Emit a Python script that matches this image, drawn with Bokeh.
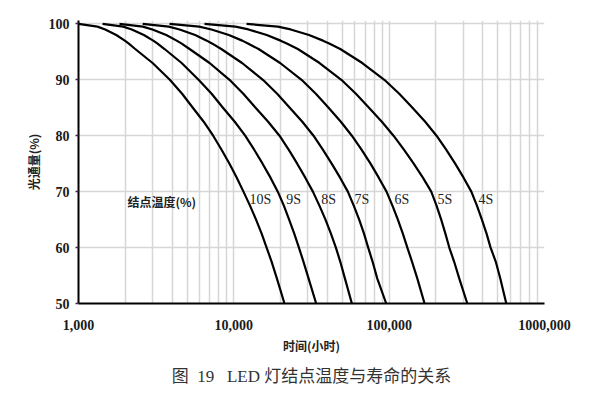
from bokeh.plotting import figure
from bokeh.models import FixedTicker, Range1d, Title, ColumnDataSource
from bokeh.core.properties import value
from bokeh.embed import file_html
from bokeh.resources import INLINE

# ---- data ----
flux_levels = [100, 99.5, 99, 98, 97, 96.5, 95.5, 93, 90, 87.5, 85, 82.5, 80, 77.5,
               75, 72.5, 70, 67.5, 65, 62.5, 60, 57.5, 54.5, 50]
hours_10s = [1000, 1324, 1486, 1750, 1986, 2099, 2317, 2999, 3873, 4645, 5445, 6397, 7362, 8337,
             9376, 10447, 11535, 12706, 13900, 15101, 16255, 17498, 18923, 21184]
hours_9s = [1429, 1941, 2203, 2636, 3027, 3214, 3581, 4613, 5929, 7194, 8511, 10139, 11830, 13521,
            15311, 17219, 19187, 20989, 22699, 24491, 26242, 28054, 30269, 33884]
hours_8s = [1837, 2594, 2992, 3673, 4285, 4592, 5188, 6982, 9376, 11508, 13804, 16634, 19679, 22542,
            25586, 28840, 32285, 35563, 38905, 42170, 45394, 48417, 51880, 57544]
hours_7s = [2588, 3811, 4477, 5636, 6699, 7228, 8299, 11298, 15382, 19011, 22909, 27606, 32584, 37411,
            42658, 48306, 54200, 59156, 64121, 68865, 73282, 78163, 83753, 95719]
hours_6s = [3855, 5984, 7178, 9290, 11324, 12331, 14421, 19861, 27290, 33729, 40738, 48865, 57544, 66374,
            75858, 85704, 96161, 104954, 113763, 122462, 130918, 140281, 151705, 169044]
hours_5s = [6471, 10257, 12417, 16293, 19999, 21928, 25823, 35645, 49204, 61094, 74131, 89743, 106660, 124451,
            143880, 164816, 186638, 201837, 216272, 230144, 243781, 261818, 282488, 318420]
hours_4s = [12078, 19187, 23227, 30479, 37497, 41115, 48417, 67143, 93111, 116145, 141254, 170608, 201837, 232809,
            266073, 301300, 338065, 367282, 395367, 423643, 449780, 485289, 518800, 567545]
series_names = ["10S", "9S", "8S", "7S", "6S", "5S", "4S"]
series_hours = [hours_10s, hours_9s, hours_8s, hours_7s, hours_6s, hours_5s, hours_4s]

x_ticks = [1000, 10000, 100000, 1000000]
x_tick_labels = ["1,000", "10,000", "100,000", "1000,000"]
y_ticks = [50, 60, 70, 80, 90, 100]

# label anchor positions (placement only)
label_x = [12620, 21740, 36540, 59840, 108300, 205000, 376500]
label_y = 68.6
legend_title_x = 2068

p = figure(width=584, height=393, x_axis_type="log",
           x_range=Range1d(1000, 1000000), y_range=Range1d(50, 100.6),
           output_backend="svg", toolbar_location=None,
           min_border_left=78, min_border_right=40, min_border_top=20, min_border_bottom=90)
p.outline_line_color = None
p.background_fill_color = "white"

minor = [m * 10 ** k for k in range(3, 6) for m in range(2, 10)]
p.xaxis.ticker = FixedTicker(ticks=x_ticks, minor_ticks=minor)
p.xaxis.major_label_overrides = {t: l for t, l in zip(x_ticks, x_tick_labels)}
p.yaxis.ticker = FixedTicker(ticks=y_ticks)

for ax in (p.xaxis[0], p.yaxis[0]):
    ax.axis_line_color = "black"
    ax.axis_line_width = 2
    ax.major_label_text_font = "Liberation Serif"
    ax.major_label_text_font_style = "bold"
    ax.major_label_text_font_size = "14px"
    ax.major_label_text_color = "#1a1a1a"
    ax.minor_tick_line_color = None
    ax.axis_label_text_font = "Noto Sans CJK SC"
    ax.axis_label_text_font_style = "bold"
    ax.axis_label_text_font_size = "12px"
    ax.axis_label_text_color = "#222222"

p.xaxis.major_tick_line_color = None
p.xaxis.major_label_standoff = 10
p.xaxis.axis_label = "时间(小时)"
p.xaxis.axis_label_standoff = 4

p.yaxis.major_tick_line_color = "#333333"
p.yaxis.major_tick_line_width = 1.5
p.yaxis.major_tick_out = 3
p.yaxis.major_tick_in = 0
p.yaxis.major_label_standoff = 6
p.yaxis.axis_label = "光通量(%)"
p.yaxis.axis_label_standoff = 4

p.xgrid.grid_line_color = "#d6d6d6"
p.xgrid.grid_line_width = 1.5
p.xgrid.minor_grid_line_color = "#d6d6d6"
p.xgrid.minor_grid_line_width = 1.5
p.ygrid.grid_line_color = "#d6d6d6"
p.ygrid.grid_line_width = 1.5

for hrs in series_hours:
    p.line(hrs, flux_levels, line_color="black", line_width=2.2, line_join="round")

lab_src = ColumnDataSource(dict(x=label_x, y=[label_y] * len(label_x), t=series_names))
p.text(x="x", y="y", text="t", source=lab_src, text_font=value("Liberation Serif"),
       text_font_size="14px", text_baseline="middle", text_align="left", text_color="#222222")
p.text(x=[legend_title_x], y=[label_y - 0.4], text=["结点温度(%)"],
       text_font=value("Noto Sans CJK SC"), text_font_style="bold",
       text_font_size="12px", text_baseline="middle", text_align="left", text_color="#222222")

cap = Title(text="图\u00a0\u00a019\u00a0\u00a0\u00a0LED 灯结点温度与寿命的关系", align="center",
            text_font="Liberation Serif, Noto Sans CJK SC", text_font_style="normal",
            text_font_size="17px", text_color="#333333", standoff=16)
p.add_layout(cap, "below")

open("out.html", "w").write(file_html(p, INLINE))
